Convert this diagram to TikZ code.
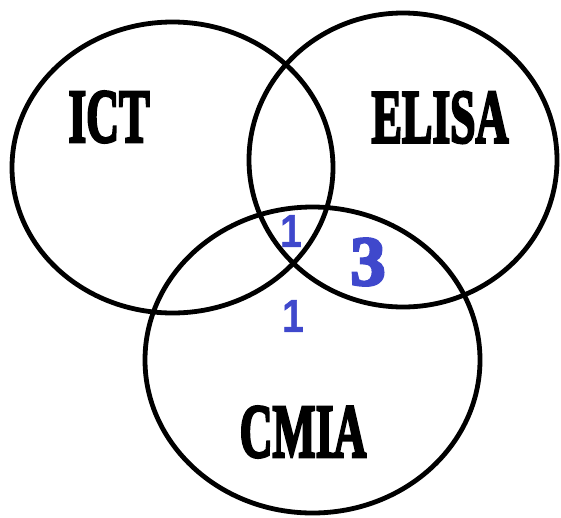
\documentclass[tikz,border=0pt]{standalone}
\usepackage{fontspec}
\usepackage[dvipsnames]{xcolor}
\usetikzlibrary{shapes.geometric}

\setmainfont{Liberation Serif}
\newfontfamily\setfont[FakeBold=4]{Liberation Serif Bold}
\newfontfamily\countfont[FakeBold=1]{Liberation Sans Bold}
\definecolor{countblue}{RGB}{63,72,204}
\newcommand{\narrow}[1]{\scalebox{0.6}[1]{#1}}

\begin{document}
\begin{tikzpicture}[x=1pt,y=-1pt,thick,
    set/.style={ellipse,draw,line width=4.8pt,inner sep=0pt},
    set name/.style={inner sep=0pt,font=\setfont\fontsize{76}{76}\selectfont},
    count/.style={inner sep=0pt,text=countblue,font=\countfont\fontsize{46}{46}\selectfont}]

                    \useasboundingbox (0,0) rectangle (561,517);

                    % the three sets
                    \node[set, minimum width=321pt, minimum height=291pt] (ict) at (172.5,167.5) {};
                    \node[set, minimum width=308pt, minimum height=294pt] (elisa) at (403,160) {};
                    \node[set, minimum width=335pt, minimum height=306pt] (cmia) at (312.5,360) {};

                    \node[set name] (ictname) at (109,117) {\narrow{ICT}};
                    \node[set name] (elisaname) at (440,117.5) {\narrow{ELISA}};
                    \node[set name] (cmianame) at (303,432) {\narrow{CMIA}};

                    % counts in the overlaps
                    \node[count] (all) at (291,231) {\scalebox{0.85}[1]{1}};
                    \node[count] (ictcmia) at (293,316) {\scalebox{0.85}[1]{1}};
                    \node[count, font=\setfont\fontsize{70}{70}\selectfont] (elisacmia) at (368,262) {3};

                    ;
                \end{tikzpicture}
\end{document}
